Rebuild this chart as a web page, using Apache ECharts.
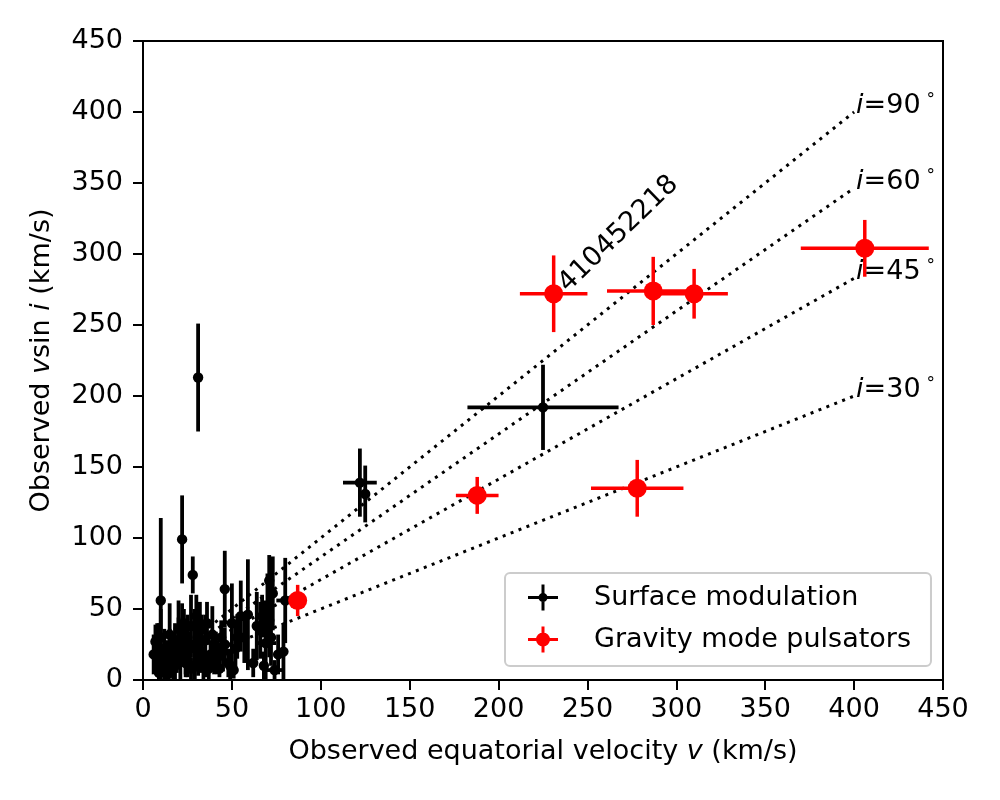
<!DOCTYPE html>
<html style="height: 100%">
<head>
<meta charset="utf-8">
<title>Observed v sin i vs equatorial velocity</title>
</head>
<body style="height: 100%; margin: 0">
<div id="container" style="width: 1000px; height: 800px"></div>
<script src="https://cdn.jsdelivr.net/npm/echarts@6/dist/echarts.min.js"></script>
<script type="text/javascript">
// surface modulation stars: v, err(v), vsini, err(vsini)
var smV      = [7, 8, 8, 9, 10, 9, 11, 12, 13, 14, 15, 16, 17, 18, 19, 20, 21, 22, 23, 24, 25, 26, 27, 28, 29, 30, 31, 31, 32, 33, 34, 35, 36, 38, 40, 41, 43, 44, 46, 46, 48, 50, 51, 53, 55, 59, 62, 66, 67, 68, 69, 70, 71, 72, 73, 74, 79, 80, 122, 125, 225,
                6, 8, 10, 12, 13, 15, 17, 18, 20, 22, 24, 25, 27, 29, 30, 33, 35, 37, 39, 42, 45, 49, 52, 57, 64, 71, 76];
var smVErr   = [1, 1, 1, 1, 1, 1, 1, 1, 1, 1, 1, 1, 1, 1, 1, 1, 1, 1, 1, 1, 1, 1, 1, 1, 1, 1, 1, 1, 1, 1, 1, 1, 1, 1, 1, 1, 1, 1, 1, 4, 1, 1, 1, 1, 3, 1, 1, 1, 1, 1, 6, 1, 1, 1, 1, 5, 1, 5, 9.5, 2, 42.5,
                1, 1, 1, 1, 1, 1, 1, 1, 1, 1, 1, 1, 1, 1, 1, 1, 1, 1, 1, 1, 1, 1, 1, 1, 1, 1, 1];
var smVsini  = [27, 14, 10, 20, 56, 5, 12, 8, 18, 4, 22, 12, 8, 28, 15, 36, 20, 99, 40, 12, 30, 22, 8, 74, 25, 45, 213, 15, 35, 20, 10, 28, 40, 18, 12, 22, 8, 30, 64, 25, 12, 40, 7, 30, 45, 46, 12, 35, 45, 10, 26, 50, 70, 30, 61, 7, 20, 56, 139, 131, 192,
                18, 24, 30, 22, 6, 32, 18, 10, 26, 34, 20, 14, 38, 10, 22, 28, 16, 8, 32, 16, 20, 10, 22, 30, 38, 42, 18];
var smVsiniErr = [12, 8, 6, 20, 58, 5, 10, 8, 10, 4, 14, 10, 8, 12, 10, 20, 20, 31, 10, 10, 16, 12, 8, 13, 25, 15, 38, 12, 20, 15, 10, 18, 15, 10, 8, 12, 6, 12, 27, 12, 10, 28, 6, 15, 25, 39, 10, 20, 15, 10, 30, 25, 18, 20, 26, 7, 20, 30, 24, 20, 30,
                  14, 16, 20, 14, 6, 22, 14, 10, 18, 20, 16, 12, 22, 10, 16, 18, 14, 8, 20, 12, 14, 10, 16, 18, 24, 26, 14];

// gravity mode pulsators
var gmV      = [87, 188, 231, 287, 310, 278, 406];
var gmVErr   = [3, 12, 19, 26, 19, 26, 36];
var gmVsini  = [56, 130, 272, 274, 272, 135, 304];
var gmVsiniErr = [11, 13, 27, 24, 17.5, 20, 20];

// lines of constant inclination
var inclinations = [90, 60, 45, 30];
var lineV = [7, 400];

var labelStar = {name: '410452218', v: 241.5, vsini: 269.5};

var font = 'DejaVu Sans';

function rows(v, ve, y, ye) {
    var res = [];
    for (var i = 0; i < v.length; i++) {
        res.push([v[i], y[i], ve[i], ye[i]]);
    }
    return res;
}

function errorBar(radius, lw) {
    return function (params, api) {
        var v = api.value(0), y = api.value(1), ve = api.value(2), ye = api.value(3);
        var c = api.coord([v, y]);
        var l = api.coord([Math.max(0, v - ve), y]);
        var r = api.coord([v + ve, y]);
        var t = api.coord([v, y + ye]);
        var b = api.coord([v, Math.max(0, y - ye)]);
        var color = api.visual('color');
        return {
            type: 'group',
            children: [
                {type: 'line', shape: {x1: l[0], y1: l[1], x2: r[0], y2: r[1]}, style: {stroke: color, lineWidth: lw}},
                {type: 'line', shape: {x1: t[0], y1: t[1], x2: b[0], y2: b[1]}, style: {stroke: color, lineWidth: lw}},
                {type: 'circle', shape: {cx: c[0], cy: c[1], r: radius}, style: {fill: color}}
            ]
        };
    };
}

var sinOf = function (inc) { return Math.sin(inc * Math.PI / 180); };

var lineSeries = inclinations.map(function (inc) {
    var s = sinOf(inc);
    return {
        type: 'line',
        silent: true,
        symbol: 'none',
        z: 1,
        lineStyle: {color: '#000', width: 3, type: [3, 5.5]},
        data: [[lineV[0], lineV[0] * s], [lineV[1], lineV[1] * s]]
    };
});

var incLabels = {
    type: 'scatter',
    silent: true,
    z: 4,
    symbolSize: 0,
    itemStyle: {opacity: 1},
    data: inclinations.map(function (inc) {
        return {name: String(inc), value: [lineV[1], lineV[1] * sinOf(inc)]};
    }),
    label: {
        show: true,
        position: [2, 0],
        align: 'left',
        verticalAlign: 'bottom',
        offset: [0, 7],
        formatter: '{it|i}={b}{sup|°}',
        fontFamily: font,
        fontSize: 27,
        color: '#000',
        rich: {
            it: {fontStyle: 'italic', fontFamily: font, fontSize: 27, color: '#000'},
            sup: {fontFamily: font, fontSize: 17, color: '#000', verticalAlign: 'top', padding: [0, 0, 0, 6]}
        }
    }
};

var blackIcon = 'path://M0,11.5h30v3h-30zM13.5,0h3v26h-3zM19.5,13a4.5,4.5 0 1,1 -9,0a4.5,4.5 0 1,1 9,0z';
var redIcon = 'path://M0,11.5h30v3h-30zM13.5,0h3v26h-3zM22,13a7,7 0 1,1 -14,0a7,7 0 1,1 14,0z';

var option = {
    backgroundColor: '#fff',
    animation: false,
    textStyle: {fontFamily: font},
    grid: {left: 143, right: 57, top: 41, bottom: 120, show: true, borderColor: '#000', borderWidth: 2},
    xAxis: {
        type: 'value', min: 0, max: 450, interval: 50,
        name: 'Observed equatorial velocity {it|v} (km/s)',
        nameLocation: 'middle', nameGap: 58,
        nameTextStyle: {fontFamily: font, fontSize: 27, color: '#000',
            rich: {it: {fontStyle: 'italic', fontFamily: font, fontSize: 27, color: '#000'}}},
        axisLine: {lineStyle: {color: '#000', width: 2}},
        axisTick: {length: 10, lineStyle: {color: '#000', width: 2}},
        axisLabel: {fontFamily: font, fontSize: 27, color: '#000', margin: 16},
        splitLine: {show: false}
    },
    yAxis: {
        type: 'value', min: 0, max: 450, interval: 50,
        name: 'Observed {it|v}sin {it|i} (km/s)',
        nameLocation: 'middle', nameGap: 88, nameRotate: 90,
        nameTextStyle: {fontFamily: font, fontSize: 27, color: '#000',
            rich: {it: {fontStyle: 'italic', fontFamily: font, fontSize: 27, color: '#000'}}},
        axisLine: {lineStyle: {color: '#000', width: 2}},
        axisTick: {length: 10, lineStyle: {color: '#000', width: 2}},
        axisLabel: {fontFamily: font, fontSize: 27, color: '#000', margin: 20},
        splitLine: {show: false}
    },
    legend: {
        orient: 'vertical',
        left: 505, top: 573,
        padding: [11, 20, 13, 23],
        itemWidth: 30, itemHeight: 26, itemGap: 15,
        borderColor: '#cccccc', borderWidth: 2, borderRadius: 5,
        backgroundColor: '#fff',
        textStyle: {fontFamily: font, fontSize: 27, color: '#000', padding: [0, 0, 0, 31]},
        data: [
            {name: 'Surface modulation', icon: blackIcon},
            {name: 'Gravity mode pulsators', icon: redIcon}
        ]
    },
    series: lineSeries.concat([
        {
            name: 'Surface modulation',
            type: 'custom',
            z: 2,
            itemStyle: {color: '#000'},
            renderItem: errorBar(5.2, 3.8),
            data: rows(smV, smVErr, smVsini, smVsiniErr)
        },
        {
            name: 'Gravity mode pulsators',
            type: 'custom',
            z: 3,
            itemStyle: {color: '#ff0000'},
            renderItem: errorBar(9.5, 3.5),
            data: rows(gmV, gmVErr, gmVsini, gmVsiniErr)
        },
        incLabels,
        {
            type: 'scatter',
            silent: true,
            z: 4,
            symbolSize: 0,
            itemStyle: {opacity: 1},
            data: [{name: labelStar.name, value: [labelStar.v, labelStar.vsini]}],
            label: {
                show: true,
                position: [0, 0],
                align: 'left',
                verticalAlign: 'bottom',
                rotate: 44,
                formatter: '{b}',
                fontFamily: font,
                fontSize: 27,
                color: '#000'
            }
        }
    ])
};

var myChart = echarts.init(document.getElementById('container'));
myChart.setOption(option);
</script>
</body>
</html>
